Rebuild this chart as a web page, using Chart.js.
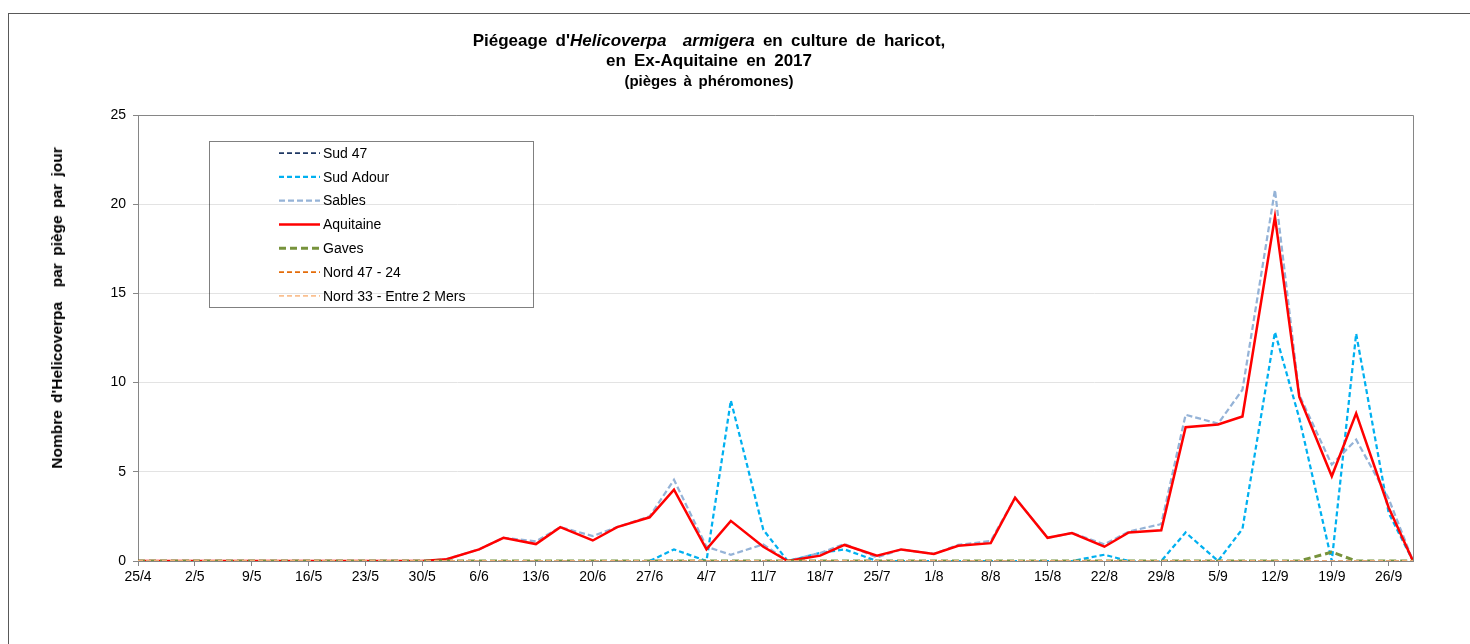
<!DOCTYPE html>
<html>
<head>
<meta charset="utf-8">
<script src="https://cdn.jsdelivr.net/npm/chart.js@4.4.0/dist/chart.umd.min.js"></script>
<style>
  html, body { margin: 0; padding: 0; background: #fff; overflow: hidden; }
  #wrap { position: relative; width: 1470px; height: 644px; font-family: "Liberation Sans", Arial, sans-serif; color: #000; }
  #frame { position: absolute; left: 8px; top: 13px; width: 1600px; height: 800px; border: 1px solid #595959; }
  #title { position: absolute; left: 0; top: 31px; width: 1418px; text-align: center; font-weight: bold; font-size: 17px; line-height: 20px; word-spacing: 3.5px; }
  #title .sub { font-size: 15px; line-height: 20px; word-spacing: 2.5px; }
  #ytitle { position: absolute; left: 57px; top: 308px; transform: translate(-50%, -50%) rotate(-90deg); white-space: nowrap; font-weight: bold; font-size: 15.5px; word-spacing: 3px; }
  canvas { position: absolute; left: 0; top: 0; }
</style>
</head>
<body>
<div id="wrap">
  <div id="frame"></div>
  <canvas id="chart" width="1470" height="644"></canvas>
  <div id="title">
    Piégeage d'<i>Helicoverpa&nbsp; armigera</i> en culture de haricot,<br>
    en Ex-Aquitaine en 2017<br>
    <span class="sub">(pièges à phéromones)</span>
  </div>
  <div id="ytitle">Nombre d'Helicoverpa&nbsp; par piège par jour</div>
</div>
<script>
// relevés deux fois par semaine (mardi / vendredi), 2017
const dates = ['25/4','28/4','2/5','5/5','9/5','12/5','16/5','19/5','23/5','26/5',
  '30/5','2/6','6/6','9/6','13/6','16/6','20/6','23/6','27/6','30/6',
  '4/7','7/7','11/7','14/7','18/7','21/7','25/7','28/7','1/8','4/8',
  '8/8','11/8','15/8','18/8','22/8','25/8','29/8','1/9','5/9','8/9',
  '12/9','15/9','19/9','22/9','26/9','29/9'];

const tickLabels = ['25/4','2/5','9/5','16/5','23/5','30/5','6/6','13/6','20/6','27/6','4/7',
  '11/7','18/7','25/7','1/8','8/8','15/8','22/8','29/8','5/9','12/9','19/9','26/9'];

const sud47 = [0,0,0,0,0,0,0,0,0,0, 0,0,0,0,0,0,0,0,0,0, 0,0,0,0,0,0,0,0,0,0,
  0,0,0,0,0,0,0,0,0,0, 0,0,0,0,0,0];
const sudAdour = [0,0,0,0,0,0,0,0,0,0, 0,0,0,0,0,0,0,0,0,0.65, 0,9.0,1.75,0,0.45,0.65,0,0,0,0,
  0,0,0,0,0.35,0,0,1.6,0,1.8, 12.83,8.0,0,12.74,2.7,0];
const sables = [0,0,0,0,0,0,0,0,0,0, 0,0.1,0.65,1.3,1.1,1.9,1.4,1.9,2.5,4.55, 0.8,0.35,0.93,0,0.45,0.95,0.2,0.65,0.4,0.9,
  1.12,3.55,1.3,1.57,0.93,1.65,2.07,8.2,7.7,9.6, 20.8,9.3,5.4,6.8,3.5,0];
const aquitaine = [0,0,0,0,0,0,0,0,0,0, 0,0.1,0.65,1.3,0.95,1.9,1.15,1.9,2.45,4.0, 0.65,2.25,0.8,0,0.3,0.9,0.3,0.65,0.4,0.85,
  1.0,3.55,1.3,1.57,0.8,1.6,1.72,7.5,7.65,8.1, 19.3,9.2,4.75,8.28,3.0,0];
const gaves = [0,0,0,0,0,0,0,0,0,0, 0,0,0,0,0,0,0,0,0,0, 0,0,0,0,0,0,0,0,0,0,
  0,0,0,0,0,0,0,0,0,0, 0,0,0.5,0,0,0];
const nord4724 = [0,0,0,0,0,0,0,0,0,0, 0,0,0,0,0,0,0,0,0,0, 0,0,0,0,0,0,0,0,0,0,
  0,0,0,0,0,0,0,0,0,0, 0,0,0,0,0,0];
const nord33 = [0,0,0,0,0,0,0,0,0,0, 0,0,0,0,0,0,0,0,0,0, 0,0,0,0,0,0,0,0,0,0,
  0,0,0,0,0,0,0,0,0,0, 0,0,0,0,0,0];

// jours écoulés depuis le 25/4
const startDay = Date.UTC(2017, 3, 25);
function dayOf(s) {
  const [d, m] = s.split('/').map(Number);
  return Math.round((Date.UTC(2017, m - 1, d) - startDay) / 86400000);
}
const xs = dates.map(dayOf);
const tickDays = tickLabels.map(dayOf);
const toPoints = vals => vals.map((v, i) => ({ x: xs[i], y: v }));

const series = [
  { label: 'Sud 47', data: sud47, color: '#1F3864', width: 1.75, dash: [5, 3] },
  { label: 'Sud Adour', data: sudAdour, color: '#00B0F0', width: 2.25, dash: [5, 3] },
  { label: 'Sables', data: sables, color: '#95B3D7', width: 2.25, dash: [6, 3] },
  { label: 'Aquitaine', data: aquitaine, color: '#FF0000', width: 2.5, dash: [] },
  { label: 'Gaves', data: gaves, color: '#77933C', width: 3, dash: [7, 4] },
  { label: 'Nord 47 - 24', data: nord4724, color: '#E46C0A', width: 1.75, dash: [5, 3] },
  { label: 'Nord 33 - Entre 2 Mers', data: nord33, color: '#FAC090', width: 1.75, dash: [5, 3] }
];

// cadre de la zone de tracé (haut et droite)
const plotBorder = {
  id: 'plotBorder',
  beforeDatasetsDraw(chart) {
    const { ctx, chartArea: a } = chart;
    ctx.save();
    ctx.strokeStyle = '#868686';
    ctx.lineWidth = 1;
    ctx.beginPath();
    ctx.moveTo(a.left, a.top + 0.5);
    ctx.lineTo(a.right + 0.5, a.top + 0.5);
    ctx.lineTo(a.right + 0.5, a.bottom);
    ctx.stroke();
    ctx.restore();
  }
};

// légende encadrée en pointillés, dans la zone de tracé
const boxLegend = {
  id: 'boxLegend',
  afterDraw(chart) {
    const ctx = chart.ctx;
    ctx.save();
    ctx.strokeStyle = '#000';
    ctx.lineWidth = 1;
    ctx.setLineDash([1, 1]);
    ctx.strokeRect(209.5, 141.5, 324, 166);
    ctx.font = '14px "Liberation Sans", Arial, sans-serif';
    ctx.fillStyle = '#000';
    ctx.textBaseline = 'middle';
    chart.data.datasets.forEach((ds, i) => {
      const y = 153 + i * 23.8;
      ctx.strokeStyle = ds.borderColor;
      ctx.lineWidth = ds.borderWidth;
      ctx.setLineDash(ds.borderDash);
      ctx.beginPath();
      ctx.moveTo(279, y);
      ctx.lineTo(320, y);
      ctx.stroke();
      ctx.fillText(ds.label, 323, y + 1);
    });
    ctx.restore();
  }
};

new Chart(document.getElementById('chart'), {
  type: 'line',
  data: {
    datasets: series.map((s, i) => ({
      label: s.label,
      data: toPoints(s.data),
      borderColor: s.color,
      backgroundColor: s.color,
      borderWidth: s.width,
      borderDash: s.dash,
      pointRadius: 0,
      tension: 0,
      fill: false,
      order: series.length - i
    }))
  },
  options: {
    responsive: false,
    animation: false,
    layout: { padding: { top: 115, left: 98, right: 57, bottom: 53 } },
    plugins: { legend: { display: false }, title: { display: false }, tooltip: { enabled: false } },
    scales: {
      x: {
        type: 'linear',
        min: 0,
        max: dayOf('29/9'),
        afterBuildTicks: scale => { scale.ticks = tickDays.map(v => ({ value: v })); },
        afterFit: scale => { scale.height = 30; },
        ticks: {
          autoSkip: false,
          maxRotation: 0,
          padding: 3,
          color: '#000',
          font: { family: '"Liberation Sans", Arial, sans-serif', size: 14 },
          callback: (v) => tickLabels[tickDays.indexOf(v)]
        },
        grid: { drawOnChartArea: false, tickLength: 5, tickColor: '#868686' },
        border: { color: '#868686', width: 1 }
      },
      y: {
        min: 0,
        max: 25,
        afterFit: scale => { scale.width = 40; },
        ticks: {
          stepSize: 5,
          padding: 7,
          color: '#000',
          font: { family: '"Liberation Sans", Arial, sans-serif', size: 14 }
        },
        grid: {
          color: c => (c.tick && c.tick.value === 0) ? 'rgba(0,0,0,0)' : '#E3E3E3',
          tickLength: 5,
          tickColor: '#868686'
        },
        border: { color: '#868686', width: 1 }
      }
    }
  },
  plugins: [plotBorder, boxLegend]
});
</script>
</body>
</html>
